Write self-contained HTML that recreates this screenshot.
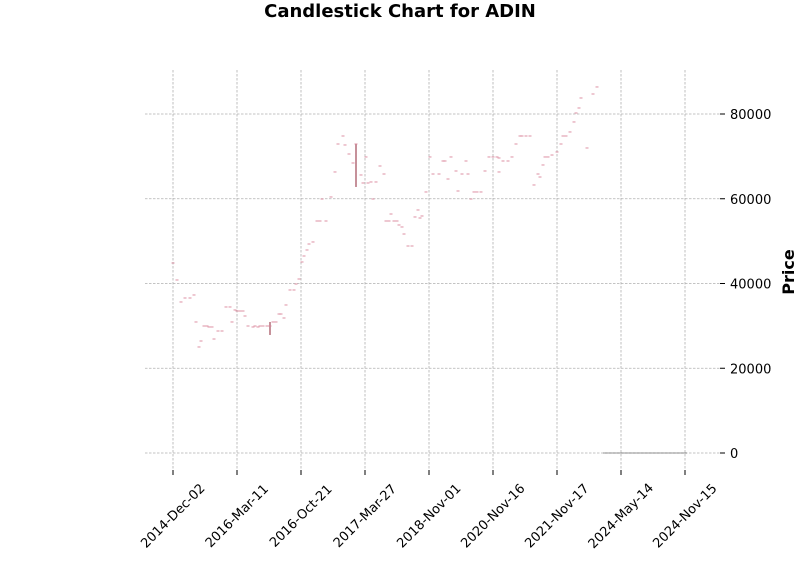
<!DOCTYPE html>
<html><head><meta charset="utf-8"><style>
body{margin:0;background:#fff;}
svg{display:block;font-family:"DejaVu Sans","Liberation Sans",sans-serif;}
</style></head><body>
<svg id="chart" width="800" height="575" viewBox="0 0 800 575">
<text x="400" y="17" text-anchor="middle" font-size="18" font-weight="bold">Candlestick Chart for ADIN</text>
<text transform="translate(794,272) rotate(-90)" text-anchor="middle" font-size="16" font-weight="bold">Price</text>
<g id="grid"></g>
<g id="candles"></g>
<g id="axes"></g>
</svg>
<script>
const dayIndex=[0,4,8,12,17,21,23,26,28,31,34,36,39,41,45,49,53,57,59,62,64,67,70,72,75,80,82,85,87,90,94,97,100,103,106,108,111,113,117,121,123,126,129,131,134,136,140,144,147,149,153,158,162,165,170,172,176,180,183,188,190,193,195,198,200,203,207,211,213,216,218,221,224,226,229,231,235,239,242,245,247,249,253,257,260,266,270,272,275,278,283,285,289,293,295,298,301,304,308,312,316,320,326,324,326,330,335,339,343,347,349,353,357,361,365,367,370,372,375,379,384,388,390,393,397,401,403,406,408,414,420,424,426,429];
const closeVals=[44840,40830,35640,36580,36580,37290,30920,25020,26430,29970,29970,29740,29740,26900,28790,28790,34460,34460,30920,33750,33510,33510,33510,32330,29970,29740,29970,29740,29970,29970,29970,29970,30920,30920,32800,32800,31860,34930,38470,38470,39880,41060,45080,46490,47910,49320,49800,54750,54750,59940,54750,60420,66320,72920,74810,72690,70560,68440,72920,65610,63720,69860,63720,63960,59940,63960,67730,65840,54750,54750,56400,54750,54750,53810,53340,51680,48850,48850,55700,57350,55460,55930,61600,69860,65840,65840,68910,68910,64660,69860,66550,61830,65840,68910,65840,59940,61600,61600,61600,66550,69860,69860,69620,69860,66320,68910,68910,69860,72920,74810,74810,74810,74810,63250,65840,65130,67970,69860,69860,70320,71040,72920,74810,74810,75760,78120,80240,81420,83780,71980,84720,86380];
const wickIdx=[97,183];
const wickHigh=[30920,72920];
const wickLow=[27850,62780];
const zeroIdx=[430,436,442,448,454,460,466,472,478,484,490,496,502,508];
const zeroVals=[0,0,0,0,0,0,0,0,0,0,0,0,0,0];
const yTicks=[0,20000,40000,60000,80000];
const yTickLabels=["0","20000","40000","60000","80000"];
const xTickIdx=[0,64,128,192,256,320,384,448,512];
const xTickLabels=["2014-Dec-02","2016-Mar-11","2016-Oct-21","2017-Mar-27","2018-Nov-01","2020-Nov-16","2021-Nov-17","2024-May-14","2024-Nov-15"];

const NS="http://www.w3.org/2000/svg";
const L=145,R=720,T=70,B=470;
const xs=i=>173+i;
const ys=p=>453-p*339/80000;
function mk(tag,attrs,parent){const e=document.createElementNS(NS,tag);for(const k in attrs)e.setAttribute(k,attrs[k]);parent.appendChild(e);return e;}
const grid=document.getElementById('grid'),cg=document.getElementById('candles'),ax=document.getElementById('axes');
yTicks.forEach((v,k)=>{
  const y=ys(v);
  const g=mk('line',{x1:L,x2:R,y1:y,y2:y,stroke:'#b0b0b0','stroke-width':0.8,'stroke-dasharray':'2.5,1.5'},grid);
  
  
  const t=mk('line',{x1:R,x2:R+5,y1:y,y2:y,stroke:'#000','stroke-width':1},ax);
  
  
  const tx=mk('text',{x:R+10,y:y+5,'font-size':13},ax);
  tx.textContent=yTickLabels[k];
  
  
});
xTickIdx.forEach((v,k)=>{
  const x=xs(v);
  const g=mk('line',{x1:x,x2:x,y1:T,y2:B,stroke:'#b0b0b0','stroke-width':0.8,'stroke-dasharray':'2.5,1.5'},grid);
  
  
  const t=mk('line',{x1:x,x2:x,y1:B,y2:B+5,stroke:'#000','stroke-width':1},ax);
  
  
  const cy=B+46;
  const tx=mk('text',{x:x,y:cy+4,'font-size':13,'text-anchor':'middle',transform:`rotate(-45 ${x} ${cy})`},ax);
  tx.textContent=xTickLabels[k];
  
  
});
wickIdx.forEach((d,k)=>{
  const x=xs(d);
  const w=mk('line',{x1:x,x2:x,y1:ys(wickHigh[k]),y2:ys(wickLow[k]),stroke:'#a04858','stroke-width':1.2},cg);
  
  
});
const n=Math.min(dayIndex.length,closeVals.length);
for(let k=0;k<n;k++){
  const x=xs(dayIndex[k]),y=ys(closeVals[k]);
  const r=mk('rect',{x:x-1.5,y:y-0.6,width:3,height:1.2,fill:'#d9849a','fill-opacity':0.75},cg);
  
  
}
zeroIdx.forEach((d,k)=>{
  const r=mk('rect',{x:xs(d),y:ys(zeroVals[k])-0.5,width:6,height:1,fill:'#666','fill-opacity':0.7},cg);
  
  
});
</script>
</body></html>
